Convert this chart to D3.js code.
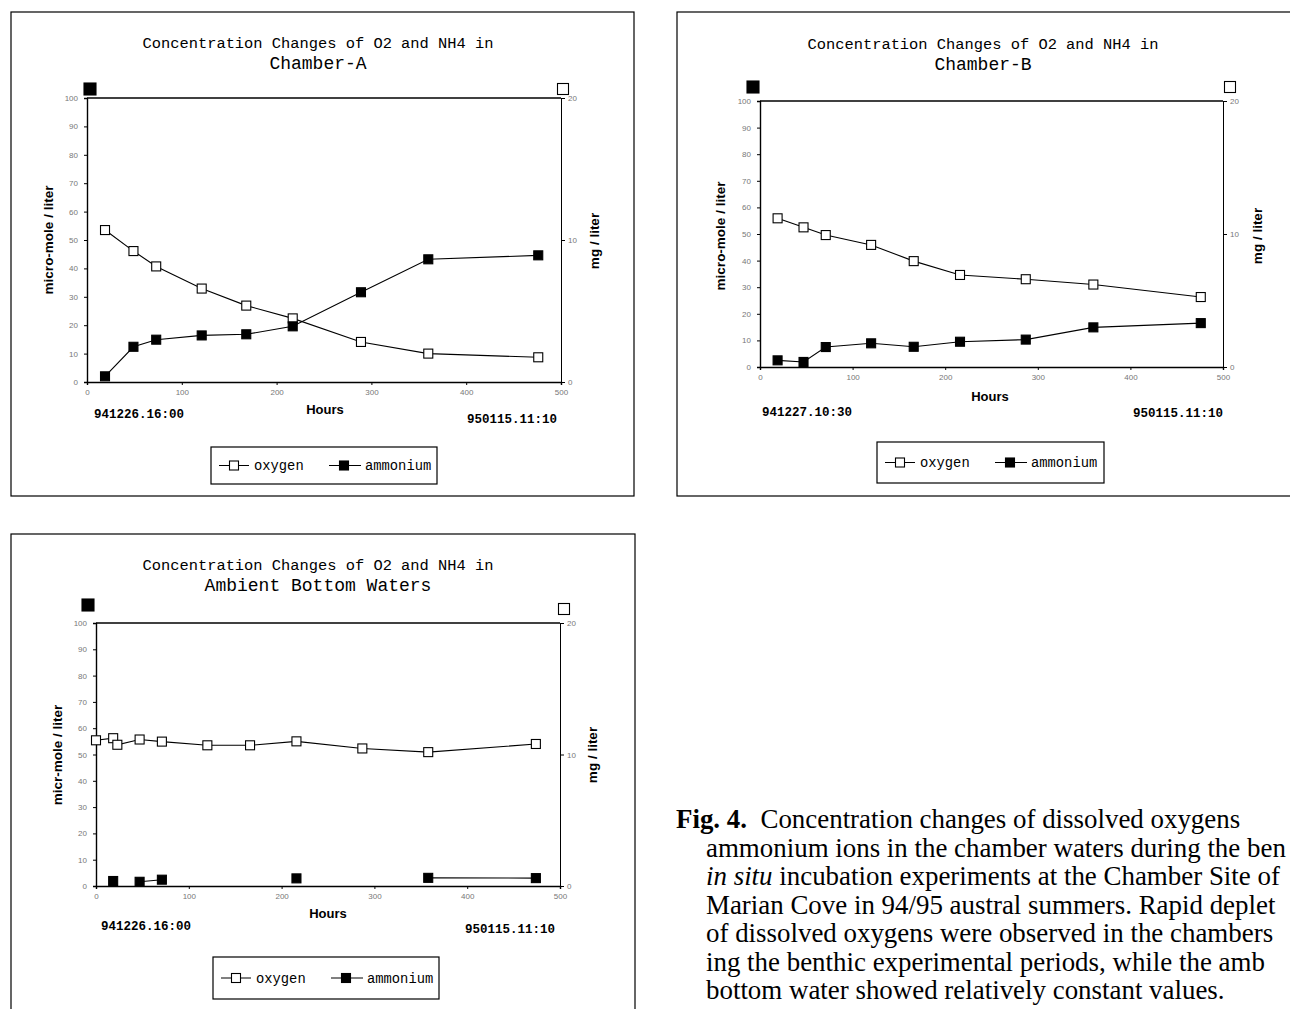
<!DOCTYPE html>
<html>
<head>
<meta charset="utf-8">
<script src="https://cdn.jsdelivr.net/npm/d3@7"></script>
<style>
  body { margin: 0; background: #fff; }
  .mono { font-family: "Liberation Mono", "DejaVu Sans Mono", monospace; }
  .sans { font-family: "Liberation Sans", Arial, sans-serif; font-weight: bold; }
  .tick text { font-family: "Liberation Sans", Arial, sans-serif; font-size: 8px; fill: #777; }
</style>
</head>
<body>
<svg id="fig" width="1290" height="1009"></svg>
<script>
// hours since start, oxygen in mg/liter (right axis), ammonium in micro-mole/liter (left axis)
var hoursA = [19, 49, 73, 121, 168, 217, 289, 360, 476];
var oxygenA = [10.7, 9.22, 8.14, 6.58, 5.38, 4.48, 2.82, 2.0, 1.74];
var ammoniumA = [2.0, 12.4, 14.9, 16.4, 16.8, 19.6, 31.6, 43.2, 44.6];

var hoursB = [19, 47, 71, 120, 166, 216, 287, 360, 476];
var oxygenB = [11.18, 10.5, 9.92, 9.18, 7.96, 6.92, 6.6, 6.2, 5.26];
var ammoniumB = [2.5, 1.9, 7.5, 8.9, 7.6, 9.5, 10.3, 14.9, 16.5];

var hoursC = [0, 18.5, 23, 47, 71, 120, 166, 216, 287, 358, 474];
var oxygenC = [11.08, 11.24, 10.74, 11.14, 10.98, 10.7, 10.7, 11.0, 10.46, 10.18, 10.8];
var ammoniumC = [null, 1.9, null, 1.6, 2.4, null, null, 2.9, null, 3.1, 3.0];

var leftTicks = [0, 10, 20, 30, 40, 50, 60, 70, 80, 90, 100];
var rightTicks = [0, 10, 20];
var hourTicks = [0, 100, 200, 300, 400, 500];

var titleLine1 = "Concentration Changes of O2 and NH4 in";

// caption as far as it shows on the page (it runs off the right edge in the print)
var captionLines = [
  [["Fig. 4.", "bold"], ["  Concentration changes of dissolved oxygens", ""]],
  [["ammonium ions in the chamber waters during the ben", ""]],
  [["in situ", "italic"], [" incubation experiments at the Chamber Site of", ""]],
  [["Marian Cove in 94/95 austral summers. Rapid deplet", ""]],
  [["of dissolved oxygens were observed in the chambers", ""]],
  [["ing the benthic experimental periods, while the amb", ""]],
  [["bottom water showed relatively constant values.", ""]]
];

var panels = [
  { title2: "Chamber-A", hours: hoursA, oxygen: oxygenA, ammonium: ammoniumA,
    box: [11, 12, 623, 484], l: 87, r: 561, t: 98, b: 382, titleX: 318, titleY: [42.5, 63],
    yLabel: "micro-mole / liter", yLabelPos: [48, 240], y2LabelPos: [594, 241],
    hoursPos: [325, 409], start: "941226.16:00", startPos: [94, 414], end: "950115.11:10", endPos: [557, 419],
    legend: [211, 447, 226, 37], fillMark: [90, 89], openMark: [563, 89] },
  { title2: "Chamber-B", hours: hoursB, oxygen: oxygenB, ammonium: ammoniumB,
    box: [677, 12, 640, 484], l: 760, r: 1223, t: 101, b: 367, titleX: 983, titleY: [43.5, 63.6],
    yLabel: "micro-mole / liter", yLabelPos: [720, 236], y2LabelPos: [1257, 236],
    hoursPos: [990, 396], start: "941227.10:30", startPos: [762, 412], end: "950115.11:10", endPos: [1223, 413],
    legend: [877, 442, 227, 41], fillMark: [753, 87], openMark: [1230, 87] },
  { title2: "Ambient Bottom Waters", hours: hoursC, oxygen: oxygenC, ammonium: ammoniumC,
    box: [11, 534, 624, 490], l: 96, r: 560, t: 623, b: 886, titleX: 318, titleY: [565, 585],
    yLabel: "micr-mole / liter", yLabelPos: [57, 755], y2LabelPos: [592, 755],
    hoursPos: [328, 913], start: "941226.16:00", startPos: [101, 926], end: "950115.11:10", endPos: [555, 929],
    legend: [213, 957, 226, 42], fillMark: [88, 605], openMark: [564, 609] }
];

var svg = d3.select("#fig");

function square(g, x, y, s, filled) {
  g.append("rect")
    .attr("x", x - s / 2).attr("y", y - s / 2)
    .attr("width", s).attr("height", s)
    .attr("fill", filled ? "#000" : "#fff")
    .attr("stroke", "#000").attr("stroke-width", 1.1);
}

panels.forEach(function(p) {
  var g = svg.append("g");

  // outer frame
  g.append("rect")
    .attr("x", p.box[0]).attr("y", p.box[1])
    .attr("width", p.box[2]).attr("height", p.box[3])
    .attr("fill", "none").attr("stroke", "#000").attr("stroke-width", 1.2);

  // titles
  g.append("text").attr("class", "mono")
    .attr("x", p.titleX).attr("y", p.titleY[0]).attr("dy", "0.35em")
    .attr("text-anchor", "middle").style("font-size", "15.4px")
    .text(titleLine1);
  g.append("text").attr("class", "mono")
    .attr("x", p.titleX).attr("y", p.titleY[1]).attr("dy", "0.35em")
    .attr("text-anchor", "middle").style("font-size", "18px")
    .text(p.title2);

  var x = d3.scaleLinear().domain([0, 500]).range([p.l, p.r]);
  var yL = d3.scaleLinear().domain([0, 100]).range([p.b, p.t]);
  var yR = d3.scaleLinear().domain([0, 20]).range([p.b, p.t]);

  // axes
  g.append("g").attr("transform", "translate(" + p.l + ",0)")
    .call(d3.axisLeft(yL).tickValues(leftTicks).tickSize(3).tickPadding(6))
    .call(function(a) { a.select(".domain").attr("stroke-width", 1.4); });
  g.append("g").attr("transform", "translate(" + p.r + ",0)")
    .call(d3.axisRight(yR).tickValues(rightTicks).tickSize(4).tickPadding(3))
    .call(function(a) { a.select(".domain").attr("stroke-width", 1); });
  g.append("g").attr("transform", "translate(0," + p.b + ")")
    .call(d3.axisBottom(x).tickValues(hourTicks).tickSize(3).tickPadding(4))
    .call(function(a) { a.select(".domain").attr("stroke-width", 1.4); });
  g.append("line")
    .attr("x1", p.l).attr("x2", p.r).attr("y1", p.t).attr("y2", p.t)
    .attr("stroke", "#000").attr("stroke-width", 1.6);

  // axis titles
  g.append("text").attr("class", "sans")
    .attr("transform", "translate(" + p.yLabelPos[0] + "," + p.yLabelPos[1] + ") rotate(-90)")
    .attr("text-anchor", "middle").attr("dy", "0.35em").style("font-size", "13.5px")
    .text(p.yLabel);
  g.append("text").attr("class", "sans")
    .attr("transform", "translate(" + p.y2LabelPos[0] + "," + p.y2LabelPos[1] + ") rotate(-90)")
    .attr("text-anchor", "middle").attr("dy", "0.35em").style("font-size", "13.5px")
    .text("mg / liter");
  g.append("text").attr("class", "sans")
    .attr("x", p.hoursPos[0]).attr("y", p.hoursPos[1]).attr("dy", "0.35em")
    .attr("text-anchor", "middle").style("font-size", "13px")
    .text("Hours");
  g.append("text").attr("class", "mono")
    .attr("x", p.startPos[0]).attr("y", p.startPos[1]).attr("dy", "0.35em")
    .style("font-size", "12.5px").style("font-weight", "bold")
    .text(p.start);
  g.append("text").attr("class", "mono")
    .attr("x", p.endPos[0]).attr("y", p.endPos[1]).attr("dy", "0.35em")
    .attr("text-anchor", "end").style("font-size", "12.5px").style("font-weight", "bold")
    .text(p.end);

  // axis owner markers
  square(g, p.fillMark[0], p.fillMark[1], 12, true);
  square(g, p.openMark[0], p.openMark[1], 11, false);

  // series
  var oxy = p.hours.map(function(h, i) { return { h: h, v: p.oxygen[i] }; });
  var amm = p.hours.map(function(h, i) { return { h: h, v: p.ammonium[i] }; });

  var lineO = d3.line().x(function(d) { return x(d.h); }).y(function(d) { return yR(d.v); });
  var lineN = d3.line()
    .defined(function(d) { return d.v != null; })
    .x(function(d) { return x(d.h); }).y(function(d) { return yL(d.v); });

  g.append("path").attr("d", lineO(oxy))
    .attr("fill", "none").attr("stroke", "#000").attr("stroke-width", 1.1);
  g.append("path").attr("d", lineN(amm))
    .attr("fill", "none").attr("stroke", "#000").attr("stroke-width", 1.1);

  oxy.forEach(function(d) { square(g, x(d.h), yR(d.v), 9, false); });
  amm.filter(function(d) { return d.v != null; })
    .forEach(function(d) { square(g, x(d.h), yL(d.v), 9, true); });

  // legend
  var lx = p.legend[0], ly = p.legend[1], cy = ly + p.legend[3] / 2;
  g.append("rect")
    .attr("x", lx).attr("y", ly).attr("width", p.legend[2]).attr("height", p.legend[3])
    .attr("fill", "#fff").attr("stroke", "#000").attr("stroke-width", 1.2);
  g.append("line").attr("x1", lx + 8).attr("x2", lx + 38).attr("y1", cy).attr("y2", cy)
    .attr("stroke", "#000");
  square(g, lx + 23, cy, 9, false);
  g.append("text").attr("class", "mono")
    .attr("x", lx + 43).attr("y", cy).attr("dy", "0.35em").style("font-size", "13.8px")
    .text("oxygen");
  g.append("line").attr("x1", lx + 118).attr("x2", lx + 150).attr("y1", cy).attr("y2", cy)
    .attr("stroke", "#000");
  square(g, lx + 133, cy, 9, true);
  g.append("text").attr("class", "mono")
    .attr("x", lx + 154).attr("y", cy).attr("dy", "0.35em").style("font-size", "13.8px")
    .text("ammonium");
});

// figure caption
var cap = svg.append("g")
  .style("font-family", "'Liberation Serif', 'Times New Roman', serif");

var capLines = cap.selectAll("text")
  .data(captionLines)
  .enter()
  .append("text")
  .attr("x", function(d, i) { return i == 0 ? 676 : 706; })
  .attr("y", function(d, i) { return 828 + i * 28.5; })
  .style("font-size", "22px");

capLines.selectAll("tspan")
  .data(function(d) { return d; })
  .enter()
  .append("tspan")
  .style("font-weight", function(d) { return d[1] == "bold" ? "bold" : null; })
  .style("font-style", function(d) { return d[1] == "italic" ? "italic" : null; })
  .attr("xml:space", "preserve")
  .text(function(d) { return d[0]; });

// fit the font so the last (uncut) line is as wide as in the print
var last = capLines.filter(function(d, i) { return i == captionLines.length - 1; }).node();
var fs = 22 * 519 / last.getComputedTextLength();
capLines.style("font-size", fs + "px");
</script>
</body>
</html>
